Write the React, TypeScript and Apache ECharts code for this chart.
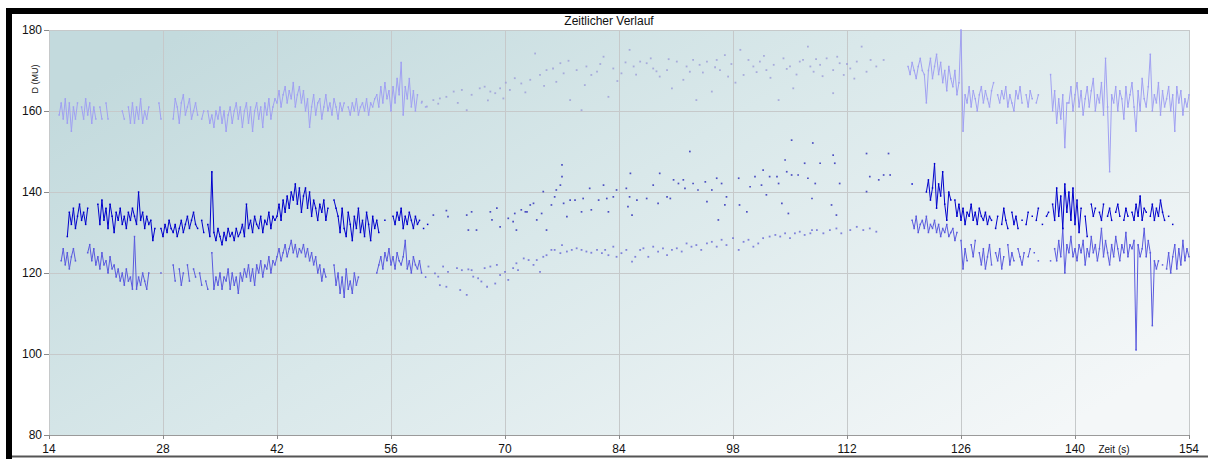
import React, { useEffect, useRef } from "react";
import * as echarts from "echarts";

// ---------- axis ticks ----------
const X_MIN = 14;
const X_MAX = 154;
const X_STEP = 14;
const Y_MIN = 80;
const Y_MAX = 180;
const Y_STEP = 20;

const TITLE = "Zeitlicher Verlauf";
const Y_NAME = "D (MU)";
const X_NAME = "Zeit (s)";

// sample spacing of the recorded lines (s)
const DT = 0.25;

// ---------- upper (light purple) series ----------
const purpleA_t0 = 15.25;
const purpleA: (number | null)[] = [
  159,162,158,163,157,162,155,161,158,162,
  null,
  161,158,163,159,162,157,161,158,
  null,
  161,158,null,162,158,
  null,null,null,null,null,null,
  160,158,null,161,157,
  162,157,161,158,163,157,160,158,161,
  null,null,null,null,
  162,158,
  null,null,null,null,null,
  158,163,161,157,162,164,159,161,163,158,160,162,
  159,null,158,160,null,
  160,157,159,156,160,158,161,157,160,155,159,161,157,160,162,158,161,156,160,162,157,161,155,160,162,158,161,156,162,159,163,158,161,163,
  162,165,161,164,166,162,165,163,167,161,164,166,162,165,160,163,156,
  161,164,159,162,163,158,161,164,160,162,159,163,161,158,162,
  160,162,null,161,159,162,160,163,159,161,162,160,163,159,162,161,163,
  164,161,166,162,167,163,165,160,166,162,168,164,172,159,166,163,168,161,165,160,164,null,162,null,161,
];
const purpleB_t0 = 119.5;
const purpleB: (number | null)[] = [
  171,169,172,170,168,171,173,170,169,162,
  170,173,168,171,174,169,172,167,170,165,171,168,166,170,164,167,
  180,155,
  164,162,166,161,165,163,160,164,166,162,165,163,161,165,167,null,164,162,165,163,166,161,164,162,160,165,163,166,162,null,164,161,165,163,null,162,164,
  null,null,null,null,null,
  169,160,165,157,163,158,164,151,162,
  162,166,160,164,167,161,165,159,163,166,
  161,165,168,160,164,162,167,159,173,161,
  145,164,162,166,160,165,163,158,166,161,
  164,167,161,155,165,160,168,163,161,166,
  174,160,164,162,167,159,165,161,163,166,
  160,164,155,166,162,165,159,163,161,164,
];
const purpleDots: [number, number][] = [
  [59.8,162.3],[60.4,161.1],[61.2,162.7],[61.8,161.8],[62.0,163.1],[62.8,163.5],[63.7,164.8],[64.2,162.0],[64.7,165.2],[65.3,160.2],
  [65.9,164.0],[66.9,165.6],[67.5,166.0],[67.9,162.6],[68.2,164.8],[68.8,164.4],[69.4,165.6],[69.8,163.1],[70.1,167.0],[70.6,165.2],
  [71.2,168.1],[72.0,166.8],[72.5,164.6],[73.1,167.7],[73.7,174.2],[74.3,168.9],[74.8,166.2],[75.1,170.1],[75.9,170.5],[76.3,167.2],
  [76.8,171.8],[77.2,169.3],[77.8,172.4],[78.0,162.7],[78.8,170.1],[79.4,160.2],[79.8,166.4],[80.0,171.0],[80.6,168.9],[81.3,169.7],
  [81.7,171.6],[82.1,173.4],[82.7,163.5],[83.3,170.5],[83.8,167.4],[84.3,169.3],[84.8,172.0],[85.3,175.1],[85.8,171.0],[86.1,169.0],
  [86.6,172.2],[87.4,171.8],[87.9,173.0],[88.2,170.5],[88.6,169.8],[89.0,168.5],[89.9,170.1],[90.1,172.8],[90.5,165.6],[91.1,172.2],
  [91.9,167.7],[92.3,171.0],[92.7,169.7],[93.1,172.6],[93.5,162.7],[93.9,171.4],[94.3,169.5],[94.8,172.2],[95.4,164.8],[95.8,170.8],
  [96.0,172.6],[96.4,170.1],[97.0,173.8],[97.4,168.5],[97.8,171.6],[98.3,167.0],[98.9,175.1],[99.3,168.9],[99.9,172.6],[100.5,171.0],
  [100.9,169.6],[101.3,172.2],[101.8,173.6],[102.1,170.1],[102.6,168.2],[103.0,171.4],[103.6,162.7],[104.2,173.0],[104.6,170.4],[105.0,171.0],
  [105.4,165.6],[105.8,169.0],[106.2,172.2],[106.6,172.6],[107.2,175.9],[107.5,171.0],[107.9,169.7],[108.2,172.8],[108.7,171.4],[109.0,168.6],
  [109.5,173.0],[110.3,170.1],[110.3,164.4],[110.8,173.4],[111.1,171.8],[111.6,168.9],[112.0,171.6],[112.4,170.5],[112.9,168.0],[113.2,172.2],
  [113.8,175.9],[114.4,169.7],[114.9,172.6],[115.6,171.0],[116.5,172.6],
];

// ---------- middle (dark blue) series ----------
const darkA_t0 = 16.25;
const darkA: (number | null)[] = [
  129,135,132,136,131,134,137,133,135,132,136,
  null,null,null,null,
  137,132,138,133,136,131,137,134,130,135,133,136,132,134,131,135,133,136,134,132,140,133,135,131,134,132,
  133,128,131,null,
  null,
  131,129,132,130,133,131,130,132,129,131,133,130,132,134,131,133,135,132,
  131,null,133,130,null,132,129,145,130,
  128,131,129,127,130,128,131,129,130,128,131,129,130,132,129,
  137,131,133,130,134,132,131,134,130,133,132,135,131,134,133,
  134,137,133,138,135,139,136,140,138,142,137,141,135,139,141,136,140,134,138,136,133,137,135,138,133,136,
  null,null,
  138,136,
  134,130,136,131,129,135,132,128,134,131,136,130,133,129,135,132,128,134,131,133,130,
  null,null,133,null,null,null,
  134,132,135,133,136,131,134,132,135,133,131,134,132,
  133,null,131,null,132,
];
const darkB_t0 = 120.0;
const darkB: (number | null)[] = [
  142,
  null,null,null,null,null,null,
  140,143,138,141,147,136,142,139,145,137,133,140,
  138,null,
  138,134,137,133,136,132,135,134,137,133,135,132,136,134,133,135,132,134,
  133,null,131,134,null,132,136,133,131,null,135,132,134,131,null,133,null,132,135,null,134,null,133,136,null,132,null,134,
  135,null,137,133,141,134,139,131,142,135,140,133,141,132,
  138,130,136,null,134,129,null,
  137,134,136,null,135,133,137,null,134,136,
  133,null,135,137,134,null,133,136,134,null,
  135,133,137,134,139,133,136,135,null,134,
  137,133,136,134,138,135,133,null,134,null,132,null,
];
const darkDots: [number, number][] = [
  [61.2,134.3],[62.8,135.4],[63.0,133.9],[65.3,134.3],[65.5,130.6],[65.9,135.1],[66.5,130.6],[68.2,135.1],[68.4,133.1],[69.0,136.0],
  [69.4,131.4],[70.4,133.5],[71.0,132.7],[71.2,134.7],[71.4,130.6],[72.0,135.6],[72.5,135.1],[72.7,135.1],[73.1,136.8],[73.5,137.2],
  [73.9,133.1],[74.5,134.7],[74.7,140.1],[75.1,130.6],[75.7,136.8],[76.1,138.8],[76.3,140.5],[76.8,141.7],[77.0,143.8],[77.0,146.7],
  [77.2,137.2],[77.6,133.9],[78.0,138.0],[78.6,138.0],[79.4,135.1],[79.6,138.4],[80.4,140.9],[80.6,135.6],[81.5,138.0],[82.1,141.7],
  [82.5,138.4],[82.7,135.1],[83.3,138.8],[83.7,140.5],[84.9,140.9],[85.1,136.4],[85.3,138.8],[85.4,144.6],[85.6,134.3],[86.2,138.0],
  [87.4,138.4],[88.2,141.7],[88.8,137.2],[89.0,144.6],[89.9,138.8],[90.3,138.4],[90.7,143.0],[91.3,142.1],[91.9,143.0],[92.1,140.9],
  [92.7,150.0],[93.1,142.1],[93.7,140.5],[94.6,142.5],[94.8,137.6],[95.4,140.5],[96.0,143.4],[96.2,133.1],[96.6,142.1],[97.0,136.8],
  [97.2,138.8],[98.7,143.4],[98.8,136.8],[99.7,135.1],[100.1,141.3],[100.7,143.8],[101.5,141.7],[101.7,145.4],[102.1,139.3],[102.5,143.8],
  [103.4,143.8],[103.6,142.1],[104.0,137.2],[104.4,147.9],[104.6,145.0],[104.8,134.7],[105.2,144.2],[105.2,152.8],[106.0,144.2],[106.8,147.1],
  [107.2,143.4],[107.7,138.4],[107.8,152.1],[108.1,142.1],[108.7,147.1],[110.1,136.8],[110.3,149.1],[110.5,147.1],[110.7,134.3],[111.1,142.1],
  [114.4,149.5],[114.4,140.1],[114.8,143.8],[115.9,143.0],[116.5,144.2],[117.1,149.5],[117.3,144.2],
];

// ---------- lower (medium blue) series ----------
const medA_t0 = 15.5;
const medA: (number | null)[] = [
  123,126,122,125,121,124,126,123,
  null,null,null,null,null,
  125,127,123,126,122,124,121,125,122,123,120,124,121,122,119,121,118,120,117,121,118,119,116,129,116,119,117,120,118,116,120,
  null,null,null,null,null,
  120,null,
  null,null,null,null,
  122,118,null,121,117,120,null,122,118,null,121,119,null,120,
  117,null,118,116,null,
  125,116,
  119,117,120,116,119,118,121,116,120,117,119,115,120,118,121,
  119,122,118,121,117,122,120,123,119,122,121,124,120,123,122,
  124,126,123,125,127,124,126,128,125,127,124,126,125,
  127,124,126,123,125,122,124,120,122,
  118,121,119,null,null,
  null,
  122,117,120,115,119,114,121,116,118,115,120,117,119,
  null,null,null,null,null,null,null,null,
  120,122,124,121,125,123,126,122,124,121,125,123,122,124,128,121,123,120,124,122,121,123,
  120,null,119,null,
];
const medB_t0 = 120.0;
const medB: (number | null)[] = [
  133,131,134,130,132,133,131,134,130,132,131,133,130,132,129,131,130,132,129,130,131,128,
  130,null,
  128,121,
  126,123,null,127,124,128,null,125,122,126,
  121,124,127,122,null,125,123,126,121,124,
  null,127,122,125,123,null,126,124,122,125,
  null,124,126,null,125,null,123,
  null,null,null,null,null,123,null,
  126,123,128,124,131,120,127,125,129,124,
  126,123,127,125,128,122,126,124,129,125,
  127,123,126,131,124,128,125,122,127,124,
  129,126,123,127,125,130,124,127,126,128,
  101,127,124,
  126,131,124,128,125,107,123,121,
  123,null,122,null,
  121,125,120,124,127,121,126,122,128,123,126,124,
];
const medDots: [number, number][] = [
  [60.6,121.6],[61.4,119.9],[61.8,119.1],[62.0,117.0],[62.4,121.6],[62.8,116.6],[63.0,120.3],[64.1,121.2],[64.5,115.8],[64.7,120.7],
  [65.3,114.6],[65.5,120.9],[65.9,120.7],[66.1,119.1],[66.7,118.7],[67.1,117.9],[67.5,121.2],[67.8,116.6],[68.2,121.6],[68.8,117.4],
  [69.0,122.0],[69.4,119.5],[70.0,120.3],[70.4,118.3],[71.0,121.2],[71.4,122.4],[71.6,120.7],[72.3,123.6],[72.9,123.2],[73.5,122.0],
  [73.9,123.2],[74.3,120.3],[74.7,124.0],[75.1,124.4],[75.7,125.7],[76.1,125.7],[76.8,124.9],[77.0,126.9],[77.6,125.3],[78.2,125.7],
  [78.8,126.1],[79.4,125.7],[80.0,125.3],[80.6,125.0],[81.3,125.7],[81.9,124.9],[82.3,125.7],[82.7,124.4],[83.3,126.5],[83.7,124.0],
  [84.3,124.9],[84.9,125.7],[85.6,122.8],[86.0,124.0],[86.6,125.7],[87.0,126.1],[87.6,124.0],[88.2,126.5],[88.8,125.3],[89.4,126.1],
  [89.9,124.4],[90.5,125.7],[91.1,126.1],[91.7,125.3],[92.3,127.3],[92.9,126.5],[93.5,126.9],[94.1,125.7],[94.8,127.3],[95.4,127.7],
  [96.0,126.5],[96.6,128.2],[97.2,126.9],[98.0,128.6],[98.7,125.7],[99.3,127.7],[99.9,128.2],[100.5,126.5],[101.1,127.3],[101.7,128.6],
  [102.5,129.0],[103.2,129.4],[103.8,129.0],[104.4,129.8],[105.0,128.6],[105.6,129.8],[106.2,130.2],[106.8,129.4],[107.5,129.8],[107.7,130.6],
  [108.3,130.6],[109.1,129.8],[109.9,130.6],[110.7,131.0],[111.3,129.8],[112.4,130.6],[113.2,131.4],[114.0,130.6],[114.8,131.0],[115.6,130.2],
];

// ---------- styling ----------
const FONT = '"Liberation Sans", Arial, Helvetica, sans-serif';
const PURPLE = "#a0a0f2";
const DARK = "#0000cc";
const MED = "#5a5ade";

const toPairs = (t0: number, vals: (number | null)[]) =>
  vals.map((v, i) => [Math.round((t0 + i * DT) * 100) / 100, v === null ? "-" : v]);

const lineSeries = (name: string, data: any[], color: string, width: number, z: number) => ({
  type: "line",
  name,
  data,
  showSymbol: true,
  symbol: "rect",
  symbolSize: 1.5,
  itemStyle: { color },
  lineStyle: { color, width },
  connectNulls: false,
  silent: true,
  emphasis: { disabled: true },
  z,
});

const dotSeries = (name: string, data: any[], color: string, size: number, z: number) => ({
  type: "scatter",
  name,
  data,
  symbol: "rect",
  symbolSize: size,
  itemStyle: { color },
  silent: true,
  emphasis: { disabled: true },
  z,
});

export default function App() {
  const ref = useRef<HTMLDivElement>(null);

  useEffect(() => {
    if (!ref.current) return;
    const chart = echarts.init(ref.current, undefined, { renderer: "svg" });
    const gridLine = { show: true, lineStyle: { color: "#c6c9ca", width: 1 } };
    chart.setOption({
      animation: false,
      backgroundColor: "#ffffff",
      grid: {
        left: 49,
        right: 19,
        top: 30,
        bottom: 24,
        show: true,
        borderWidth: 0,
        outerBoundsMode: "none",
        backgroundColor: {
          type: "linear",
          x: 0,
          y: 0.2,
          x2: 1,
          y2: 0.8,
          colorStops: [
            { offset: 0, color: "#c3dadd" },
            { offset: 0.45, color: "#d9e8ea" },
            { offset: 1, color: "#f4f7f8" },
          ],
        },
      },
      xAxis: {
        type: "value",
        min: X_MIN,
        max: X_MAX,
        interval: X_STEP,
        axisLine: { show: true, lineStyle: { color: "#9a9a9a", width: 1 } },
        axisTick: { show: true, length: 4, lineStyle: { color: "#8a8a8a" } },
        axisLabel: { color: "#111", fontSize: 12, fontFamily: FONT, margin: 8 },
        splitLine: gridLine,
      },
      yAxis: {
        type: "value",
        min: Y_MIN,
        max: Y_MAX,
        interval: Y_STEP,
        axisLine: { show: false },
        axisTick: { show: true, length: 5, lineStyle: { color: "#8a8a8a" } },
        axisLabel: { color: "#111", fontSize: 12, fontFamily: FONT, margin: 7 },
        splitLine: gridLine,
      },
      graphic: [
        { type: "rect", shape: { x: 6, y: 8, width: 1202, height: 6 }, style: { fill: "#000" }, silent: true },
        { type: "rect", shape: { x: 6, y: 8, width: 6, height: 451 }, style: { fill: "#000" }, silent: true },
        { type: "rect", shape: { x: 12, y: 455.5, width: 1196, height: 2 }, style: { fill: "#555" }, silent: true },
        {
          type: "text",
          x: 609,
          y: 21,
          style: { text: TITLE, font: `12px ${FONT}`, fill: "#111", align: "center", verticalAlign: "middle" },
          silent: true,
        },
        {
          type: "text",
          x: 35,
          y: 79,
          rotation: Math.PI / 2,
          style: { text: Y_NAME, font: `9px ${FONT}`, fill: "#111", align: "center", verticalAlign: "middle" },
          silent: true,
        },
        {
          type: "text",
          x: 1114,
          y: 449.5,
          style: { text: X_NAME, font: `10px ${FONT}`, fill: "#111", align: "center", verticalAlign: "middle" },
          silent: true,
        },
      ],
      series: [
        dotSeries("D oben Punkte", purpleDots, "#9c9cd8", 1.8, 3),
        dotSeries("D unten Punkte", medDots, "#6868d4", 1.8, 3),
        dotSeries("D mitte Punkte", darkDots, "#2828b8", 1.7, 4),
        lineSeries("D oben A", toPairs(purpleA_t0, purpleA), PURPLE, 1, 5),
        lineSeries("D oben B", toPairs(purpleB_t0, purpleB), PURPLE, 1, 5),
        lineSeries("D unten A", toPairs(medA_t0, medA), MED, 1, 6),
        lineSeries("D unten B", toPairs(medB_t0, medB), MED, 1, 6),
        lineSeries("D mitte A", toPairs(darkA_t0, darkA), DARK, 1, 7),
        lineSeries("D mitte B", toPairs(darkB_t0, darkB), DARK, 1, 7),
      ],
    });
    return () => chart.dispose();
  }, []);

  return (
    <div
      ref={ref}
      style={{ position: "fixed", left: 0, top: 0, width: 1208, height: 459, background: "#fff" }}
    />
  );
}
